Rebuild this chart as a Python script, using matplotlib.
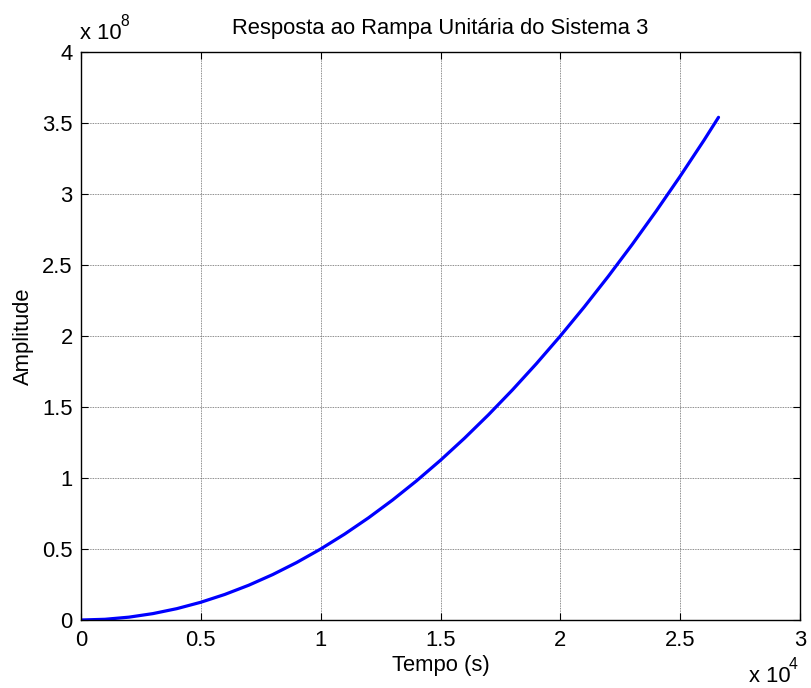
import numpy as np
import matplotlib
matplotlib.use("Agg")
import matplotlib.pyplot as plt

plt.rcParams['font.family'] = ['Liberation Sans', 'DejaVu Sans']

# Ramp response samples (time in units of 1e4 s, amplitude in units of 1e8)
tempo = [0.0, 0.1, 0.2, 0.3, 0.4, 0.5, 0.6, 0.7, 0.8, 0.9, 1.0, 1.1, 1.2, 1.3,
         1.4, 1.5, 1.6, 1.7, 1.8, 1.9, 2.0, 2.1, 2.2, 2.3, 2.4, 2.5, 2.6, 2.66]
amplitude = [0.0, 0.005, 0.02, 0.045, 0.08, 0.125, 0.18, 0.245, 0.32, 0.405,
             0.5, 0.605, 0.72, 0.845, 0.98, 1.125, 1.28, 1.445, 1.62, 1.805,
             2.0, 2.205, 2.42, 2.645, 2.88, 3.125, 3.38, 3.54]

x_ticks = [0, 0.5, 1, 1.5, 2, 2.5, 3]
x_labels = ['0', '0.5', '1', '1.5', '2', '2.5', '3']
y_ticks = [0, 0.5, 1, 1.5, 2, 2.5, 3, 3.5, 4]
y_labels = ['0', '0.5', '1', '1.5', '2', '2.5', '3', '3.5', '4']

fs = 15.8
fig = plt.figure(figsize=(8.11, 6.88), dpi=100)
ax = fig.add_axes([81/811, 1 - 620/688, 719/811, 568/688])

ax.plot(tempo, amplitude, color='#0000ff', lw=2.3, solid_capstyle='round')

ax.set_xlim(0, 3)
ax.set_ylim(0, 4)
ax.set_xticks(x_ticks)
ax.set_xticklabels(x_labels)
ax.set_yticks(y_ticks)
ax.set_yticklabels(y_labels)
ax.tick_params(direction='in', length=5, width=0.8, top=True, right=True,
               labelsize=fs, colors='black')
ax.tick_params(axis='y', pad=6)
ax.tick_params(axis='x', pad=7)
ax.grid(True, color='#666666', linestyle=(0, (1, 1)), linewidth=0.6)
for s in ax.spines.values():
    s.set_linewidth(1.0)

ax.set_title('Resposta ao Rampa Unitária do Sistema 3', fontsize=fs, pad=13)
ax.set_xlabel('Tempo (s)', fontsize=fs, labelpad=3)
ax.set_ylabel('Amplitude', fontsize=fs, labelpad=6)

# Exponent annotations for the scaled axes
fig.text(80/811, 1 - 39/688, 'x 10', fontsize=fs, ha='left', va='baseline')
fig.text(120/811, 1 - 26/688, '8', fontsize=fs * 0.72, ha='left', va='baseline')
fig.text(749/811, 1 - 682/688, 'x 10', fontsize=fs, ha='left', va='baseline')
fig.text(789/811, 1 - 669/688, '4', fontsize=fs * 0.72, ha='left', va='baseline')

fig.savefig('out.png', dpi=100, facecolor='white')
